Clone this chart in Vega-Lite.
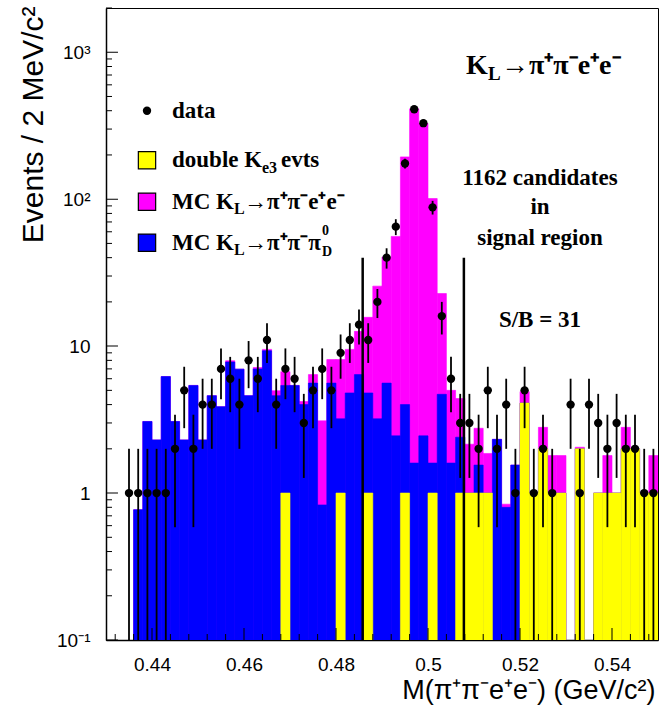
{
  "$schema": "https://vega.github.io/schema/vega-lite/v6.json",
  "width": 552,
  "height": 632,
  "autosize": {"type": "none"},
  "padding": {"left": 106, "top": 8, "right": 1, "bottom": 65},
  "background": "white",
  "config": {
    "view": {"stroke": "black", "strokeWidth": 1},
    "axis": {"domainColor": "black", "domainWidth": 1.5, "ticks": false, "labelColor": "black", "titleColor": "black", "labelFont": "Liberation Sans", "titleFont": "Liberation Sans", "titleFontWeight": "normal", "grid": false, "labelOverlap": false, "labelFlush": false, "zindex": 1},
    "text": {"font": "Liberation Serif", "fontWeight": "bold", "color": "black"}
  },
  "datasets": {
    "hist": [
      {"m_lo": 0.430, "m_hi": 0.432, "m": 0.431},
      {"m_lo": 0.432, "m_hi": 0.434, "m": 0.433},
      {"m_lo": 0.434, "m_hi": 0.436, "m": 0.435, "n": 1, "err_lo": 0.1, "err_hi": 2},
      {"m_lo": 0.436, "m_hi": 0.438, "m": 0.437, "n": 1, "err_lo": 0.1, "err_hi": 2, "pipipi_top": 0.77, "pipiee_top": 0.77},
      {"m_lo": 0.438, "m_hi": 0.440, "m": 0.439, "n": 1, "err_lo": 0.1, "err_hi": 2, "pipipi_top": 3.07, "pipiee_top": 3.07},
      {"m_lo": 0.440, "m_hi": 0.442, "m": 0.441, "n": 1, "err_lo": 0.1, "err_hi": 2, "pipipi_top": 2.3, "pipiee_top": 2.3},
      {"m_lo": 0.442, "m_hi": 0.444, "m": 0.443, "n": 1, "err_lo": 0.1, "err_hi": 2, "pipipi_top": 6.2, "pipiee_top": 6.2},
      {"m_lo": 0.444, "m_hi": 0.446, "m": 0.445, "n": 2, "err_lo": 0.586, "err_hi": 3.414, "pipipi_top": 3.07, "pipiee_top": 3.07},
      {"m_lo": 0.446, "m_hi": 0.448, "m": 0.447, "n": 5, "err_lo": 2.764, "err_hi": 7.236, "pipipi_top": 2.3, "pipiee_top": 2.3},
      {"m_lo": 0.448, "m_hi": 0.450, "m": 0.449, "n": 2, "err_lo": 0.586, "err_hi": 3.414, "pipipi_top": 5.4, "pipiee_top": 5.4},
      {"m_lo": 0.450, "m_hi": 0.452, "m": 0.451, "n": 4, "err_lo": 2, "err_hi": 6, "pipipi_top": 2.3, "pipiee_top": 2.3},
      {"m_lo": 0.452, "m_hi": 0.454, "m": 0.453, "n": 4, "err_lo": 2, "err_hi": 6, "pipipi_top": 4.6, "pipiee_top": 4.6},
      {"m_lo": 0.454, "m_hi": 0.456, "m": 0.455, "n": 7, "err_lo": 4.354, "err_hi": 9.646, "pipipi_top": 3.87, "pipiee_top": 3.87},
      {"m_lo": 0.456, "m_hi": 0.458, "m": 0.457, "n": 6, "err_lo": 3.551, "err_hi": 8.449, "pipipi_top": 7.8, "pipiee_top": 7.95},
      {"m_lo": 0.458, "m_hi": 0.460, "m": 0.459, "n": 4, "err_lo": 2, "err_hi": 6, "pipipi_top": 6.97, "pipiee_top": 6.97},
      {"m_lo": 0.460, "m_hi": 0.462, "m": 0.461, "n": 8, "err_lo": 5.172, "err_hi": 10.828, "pipipi_top": 4.6, "pipiee_top": 4.6},
      {"m_lo": 0.462, "m_hi": 0.464, "m": 0.463, "n": 6, "err_lo": 3.551, "err_hi": 8.449, "pipipi_top": 7.0, "pipiee_top": 7.15},
      {"m_lo": 0.464, "m_hi": 0.466, "m": 0.465, "n": 11, "err_lo": 7.683, "err_hi": 14.317, "pipipi_top": 9.3, "pipiee_top": 9.5},
      {"m_lo": 0.466, "m_hi": 0.468, "m": 0.467, "n": 4, "err_lo": 2, "err_hi": 6, "pipipi_top": 4.6, "pipiee_top": 4.97},
      {"m_lo": 0.468, "m_hi": 0.470, "m": 0.469, "n": 7, "err_lo": 4.354, "err_hi": 9.646, "ke3_top": 1, "pipipi_top": 5.4, "pipiee_top": 6.7},
      {"m_lo": 0.470, "m_hi": 0.472, "m": 0.471, "n": 6, "err_lo": 3.551, "err_hi": 8.449, "pipipi_top": 5.4, "pipiee_top": 5.4},
      {"m_lo": 0.472, "m_hi": 0.474, "m": 0.473, "n": 3, "err_lo": 1.268, "err_hi": 4.732, "pipipi_top": 4.0, "pipiee_top": 4.2},
      {"m_lo": 0.474, "m_hi": 0.476, "m": 0.475, "n": 5, "err_lo": 2.764, "err_hi": 7.236, "pipipi_top": 5.6, "pipiee_top": 6.4},
      {"m_lo": 0.476, "m_hi": 0.478, "m": 0.477, "n": 7, "err_lo": 4.354, "err_hi": 9.646, "pipipi_top": 0.83, "pipiee_top": 3.1},
      {"m_lo": 0.478, "m_hi": 0.480, "m": 0.479, "n": 5, "err_lo": 2.764, "err_hi": 7.236, "pipipi_top": 5.6, "pipiee_top": 8.1},
      {"m_lo": 0.480, "m_hi": 0.482, "m": 0.481, "n": 9, "err_lo": 6, "err_hi": 12, "ke3_top": 1, "pipipi_top": 3.2, "pipiee_top": 8.1},
      {"m_lo": 0.482, "m_hi": 0.484, "m": 0.483, "n": 11, "err_lo": 7.683, "err_hi": 14.317, "pipipi_top": 4.8, "pipiee_top": 9.5},
      {"m_lo": 0.484, "m_hi": 0.486, "m": 0.485, "n": 14, "err_lo": 10.258, "err_hi": 17.742, "pipipi_top": 6.4, "pipiee_top": 12.6},
      {"m_lo": 0.486, "m_hi": 0.488, "m": 0.487, "n": 11, "err_lo": 7.683, "err_hi": 14.317, "ke3_top": 1, "pipipi_top": 4.8, "pipiee_top": 15.7},
      {"m_lo": 0.488, "m_hi": 0.490, "m": 0.489, "n": 20, "err_lo": 15.528, "err_hi": 24.472, "pipipi_top": 3.2, "pipiee_top": 25.6},
      {"m_lo": 0.490, "m_hi": 0.492, "m": 0.491, "n": 40, "err_lo": 33.675, "err_hi": 46.325, "pipipi_top": 5.6, "pipiee_top": 40.4},
      {"m_lo": 0.492, "m_hi": 0.494, "m": 0.493, "n": 65, "err_lo": 56.938, "err_hi": 73.062, "pipipi_top": 2.45, "pipiee_top": 55.8},
      {"m_lo": 0.494, "m_hi": 0.496, "m": 0.495, "n": 175, "err_lo": 161.771, "err_hi": 188.229, "ke3_top": 1, "pipipi_top": 4.0, "pipiee_top": 194},
      {"m_lo": 0.496, "m_hi": 0.498, "m": 0.497, "n": 409, "err_lo": 388.776, "err_hi": 429.224, "pipipi_top": 1.6, "pipiee_top": 412},
      {"m_lo": 0.498, "m_hi": 0.500, "m": 0.499, "n": 329, "err_lo": 310.862, "err_hi": 347.138, "pipipi_top": 2.45, "pipiee_top": 328},
      {"m_lo": 0.500, "m_hi": 0.502, "m": 0.501, "n": 88, "err_lo": 78.619, "err_hi": 97.381, "ke3_top": 1, "pipipi_top": 1.6, "pipiee_top": 101},
      {"m_lo": 0.502, "m_hi": 0.504, "m": 0.503, "n": 16, "err_lo": 12, "err_hi": 20, "pipipi_top": 4.7, "pipiee_top": 22.8},
      {"m_lo": 0.504, "m_hi": 0.506, "m": 0.505, "n": 6, "err_lo": 3.551, "err_hi": 8.449, "pipipi_top": 1.6, "pipiee_top": 5.0},
      {"m_lo": 0.506, "m_hi": 0.508, "m": 0.507, "n": 3, "err_lo": 1.268, "err_hi": 4.732, "ke3_top": 1, "pipipi_top": 2.4, "pipiee_top": 4.4},
      {"m_lo": 0.508, "m_hi": 0.510, "m": 0.509, "n": 3, "err_lo": 1.268, "err_hi": 4.732, "ke3_top": 1, "pipipi_top": 1, "pipiee_top": 2.15},
      {"m_lo": 0.510, "m_hi": 0.512, "m": 0.511, "n": 2, "err_lo": 0.586, "err_hi": 3.414, "ke3_top": 1, "pipipi_top": 1.55, "pipiee_top": 2.76},
      {"m_lo": 0.512, "m_hi": 0.514, "m": 0.513, "n": 5, "err_lo": 2.764, "err_hi": 7.236, "ke3_top": 1, "pipipi_top": 1, "pipiee_top": 1.86},
      {"m_lo": 0.514, "m_hi": 0.516, "m": 0.515, "n": 2, "err_lo": 0.586, "err_hi": 3.414, "pipipi_top": 2.32, "pipiee_top": 2.32},
      {"m_lo": 0.516, "m_hi": 0.518, "m": 0.517, "n": 4, "err_lo": 2, "err_hi": 6, "pipipi_top": 0.8, "pipiee_top": 0.84},
      {"m_lo": 0.518, "m_hi": 0.520, "m": 0.519, "n": 1, "err_lo": 0.1, "err_hi": 2, "pipipi_top": 1.55, "pipiee_top": 1.55},
      {"m_lo": 0.520, "m_hi": 0.522, "m": 0.521, "n": 5, "err_lo": 2.764, "err_hi": 7.236, "ke3_top": 4.1, "pipipi_top": 4.1, "pipiee_top": 4.9},
      {"m_lo": 0.522, "m_hi": 0.524, "m": 0.523, "n": 1, "err_lo": 0.1, "err_hi": 2, "ke3_top": 1, "pipipi_top": 1, "pipiee_top": 1},
      {"m_lo": 0.524, "m_hi": 0.526, "m": 0.525, "n": 2, "err_lo": 0.586, "err_hi": 3.414, "ke3_top": 2, "pipipi_top": 2, "pipiee_top": 2.8},
      {"m_lo": 0.526, "m_hi": 0.528, "m": 0.527, "n": 1, "err_lo": 0.1, "err_hi": 2, "ke3_top": 1, "pipipi_top": 1, "pipiee_top": 1.8},
      {"m_lo": 0.528, "m_hi": 0.530, "m": 0.529, "ke3_top": 1, "pipipi_top": 1, "pipiee_top": 1.8},
      {"m_lo": 0.530, "m_hi": 0.532, "m": 0.531, "n": 4, "err_lo": 2, "err_hi": 6},
      {"m_lo": 0.532, "m_hi": 0.534, "m": 0.533, "n": 1, "err_lo": 0.1, "err_hi": 2, "ke3_top": 2, "pipipi_top": 2, "pipiee_top": 2.05},
      {"m_lo": 0.534, "m_hi": 0.536, "m": 0.535, "n": 4, "err_lo": 2, "err_hi": 6},
      {"m_lo": 0.536, "m_hi": 0.538, "m": 0.537, "n": 3, "err_lo": 1.268, "err_hi": 4.732, "ke3_top": 1, "pipipi_top": 1, "pipiee_top": 1},
      {"m_lo": 0.538, "m_hi": 0.540, "m": 0.539, "n": 2, "err_lo": 0.586, "err_hi": 3.414, "ke3_top": 1, "pipipi_top": 1, "pipiee_top": 1.8},
      {"m_lo": 0.540, "m_hi": 0.542, "m": 0.541, "n": 3, "err_lo": 1.268, "err_hi": 4.732, "ke3_top": 1, "pipipi_top": 1, "pipiee_top": 1},
      {"m_lo": 0.542, "m_hi": 0.544, "m": 0.543, "n": 2, "err_lo": 0.586, "err_hi": 3.414, "ke3_top": 2, "pipipi_top": 2, "pipiee_top": 2.8},
      {"m_lo": 0.544, "m_hi": 0.546, "m": 0.545, "n": 2, "err_lo": 0.586, "err_hi": 3.414, "ke3_top": 2, "pipipi_top": 2, "pipiee_top": 2},
      {"m_lo": 0.546, "m_hi": 0.548, "m": 0.547, "n": 1, "err_lo": 0.1, "err_hi": 2, "ke3_top": 1, "pipipi_top": 1, "pipiee_top": 1},
      {"m_lo": 0.548, "m_hi": 0.550, "m": 0.549, "n": 1, "err_lo": 0.1, "err_hi": 2, "ke3_top": 1, "pipipi_top": 1, "pipiee_top": 1.8}
    ],
    "cuts": [{"m": 0.4858, "top": 40}, {"m": 0.5078, "top": 40}],
    "ytick_major": [{"v": 0.1}, {"v": 1}, {"v": 10}, {"v": 100}, {"v": 1000}],
    "ytick_minor": [
      {"v": 0.2}, {"v": 0.3}, {"v": 0.4}, {"v": 0.5}, {"v": 0.6}, {"v": 0.7}, {"v": 0.8}, {"v": 0.9},
      {"v": 2}, {"v": 3}, {"v": 4}, {"v": 5}, {"v": 6}, {"v": 7}, {"v": 8}, {"v": 9},
      {"v": 20}, {"v": 30}, {"v": 40}, {"v": 50}, {"v": 60}, {"v": 70}, {"v": 80}, {"v": 90},
      {"v": 200}, {"v": 300}, {"v": 400}, {"v": 500}, {"v": 600}, {"v": 700}, {"v": 800}, {"v": 900}, {"v": 2000}
    ],
    "xtick_major": [{"v": 0.44}, {"v": 0.46}, {"v": 0.48}, {"v": 0.5}, {"v": 0.52}, {"v": 0.54}],
    "xtick_minor": [
      {"v": 0.432}, {"v": 0.436}, {"v": 0.444}, {"v": 0.448}, {"v": 0.452}, {"v": 0.456},
      {"v": 0.464}, {"v": 0.468}, {"v": 0.472}, {"v": 0.476}, {"v": 0.484}, {"v": 0.488}, {"v": 0.492}, {"v": 0.496},
      {"v": 0.504}, {"v": 0.508}, {"v": 0.512}, {"v": 0.516}, {"v": 0.524}, {"v": 0.528}, {"v": 0.532}, {"v": 0.536},
      {"v": 0.544}, {"v": 0.548}
    ]
  },
  "layer": [
    {
      "data": {"name": "hist"},
      "mark": {"type": "bar", "color": "#ff00ff", "stroke": "#ff00ff", "strokeWidth": 0.6, "clip": true},
      "encoding": {
        "x": {"field": "m_lo", "type": "quantitative",
          "scale": {"domain": [0.43, 0.55], "nice": false, "zero": false},
          "axis": {"title": "M(π⁺π⁻e⁺e⁻) (GeV/c²)",
            "values": [0.44, 0.46, 0.48, 0.5, 0.52, 0.54],
            "labelExpr": "format(datum.value, '.2~f')",
            "labelOverlap": false, "labelBound": false, "ticks": false,
            "labelPadding": 15, "labelFontSize": 19,
            "titleFontSize": 27, "titleX": 549, "titleY": 58, "titleAlign": "right", "titleBaseline": "alphabetic"}},
        "x2": {"field": "m_hi"},
        "y": {"field": "pipiee_top", "type": "quantitative",
          "scale": {"type": "log", "domain": [0.1, 2000], "nice": false},
          "axis": {"title": "Events / 2 MeV/c²",
            "values": [0.1, 1, 10, 100, 1000],
            "labelExpr": "datum.value == 1000 ? '10³' : datum.value == 100 ? '10²' : datum.value == 10 ? '10' : datum.value == 1 ? '1' : '10⁻¹'",
            "labelOverlap": false, "labelBound": false, "ticks": false,
            "labelPadding": 16, "labelFontSize": 19,
            "titleFontSize": 30, "titleX": -64, "titleY": -2, "titleAngle": -90, "titleAlign": "right", "titleBaseline": "alphabetic"}},
        "y2": {"datum": 0.1}
      }
    },
    {
      "data": {"name": "hist"},
      "mark": {"type": "bar", "color": "#0000ff", "stroke": "#0000ff", "strokeWidth": 0.6, "clip": true},
      "encoding": {
        "x": {"field": "m_lo", "type": "quantitative"},
        "x2": {"field": "m_hi"},
        "y": {"field": "pipipi_top", "type": "quantitative"},
        "y2": {"datum": 0.1}
      }
    },
    {
      "data": {"name": "hist"},
      "mark": {"type": "bar", "color": "#ffff00", "stroke": "#ffff00", "strokeWidth": 0.6, "clip": true},
      "encoding": {
        "x": {"field": "m_lo", "type": "quantitative"},
        "x2": {"field": "m_hi"},
        "y": {"field": "ke3_top", "type": "quantitative"},
        "y2": {"datum": 0.1}
      }
    },
    {
      "data": {"name": "ytick_major"},
      "mark": {"type": "tick", "orient": "horizontal", "color": "black", "size": 12, "thickness": 1, "opacity": 1},
      "encoding": {
        "y": {"field": "v", "type": "quantitative"},
        "x": {"datum": 0.4313, "type": "quantitative"}
      }
    },
    {
      "data": {"name": "ytick_minor"},
      "mark": {"type": "tick", "orient": "horizontal", "color": "black", "size": 6, "thickness": 1, "opacity": 1},
      "encoding": {
        "y": {"field": "v", "type": "quantitative"},
        "x": {"datum": 0.43065, "type": "quantitative"}
      }
    },
    {
      "data": {"name": "xtick_major"},
      "mark": {"type": "tick", "orient": "vertical", "color": "black", "size": 12, "thickness": 1, "opacity": 1},
      "encoding": {
        "x": {"field": "v", "type": "quantitative"},
        "y": {"datum": 0.10985, "type": "quantitative"}
      }
    },
    {
      "data": {"name": "xtick_minor"},
      "mark": {"type": "tick", "orient": "vertical", "color": "black", "size": 6, "thickness": 1, "opacity": 1},
      "encoding": {
        "x": {"field": "v", "type": "quantitative"},
        "y": {"datum": 0.10481, "type": "quantitative"}
      }
    },
    {
      "data": {"name": "cuts"},
      "mark": {"type": "rule", "color": "black", "strokeWidth": 2.5},
      "encoding": {
        "x": {"field": "m", "type": "quantitative"},
        "y": {"field": "top", "type": "quantitative"},
        "y2": {"datum": 0.1}
      }
    },
    {
      "data": {"name": "hist"},
      "mark": {"type": "rule", "color": "black", "strokeWidth": 1.8, "clip": true},
      "encoding": {
        "x": {"field": "m", "type": "quantitative"},
        "y": {"field": "err_lo", "type": "quantitative"},
        "y2": {"field": "err_hi"}
      }
    },
    {
      "data": {"name": "hist"},
      "mark": {"type": "point", "shape": "circle", "filled": true, "color": "black", "size": 70, "opacity": 1},
      "encoding": {
        "x": {"field": "m", "type": "quantitative"},
        "y": {"field": "n", "type": "quantitative"}
      }
    },
    {"data": {"values": [{}]}, "mark": {"type": "point", "shape": "circle", "filled": true, "color": "black", "size": 70, "opacity": 1},
     "encoding": {"x": {"datum": 0.438913, "type": "quantitative"}, "y": {"datum": 400, "type": "quantitative"}}},
    {"data": {"values": [{}]}, "mark": {"type": "point", "shape": "square", "filled": true, "fill": "#ffff00", "stroke": "black", "strokeWidth": 1.2, "size": 300, "opacity": 1},
     "encoding": {"x": {"datum": 0.438913, "type": "quantitative"}, "y": {"datum": 184, "type": "quantitative"}}},
    {"data": {"values": [{}]}, "mark": {"type": "point", "shape": "square", "filled": true, "fill": "#ff00ff", "stroke": "black", "strokeWidth": 1.2, "size": 300, "opacity": 1},
     "encoding": {"x": {"datum": 0.438913, "type": "quantitative"}, "y": {"datum": 96, "type": "quantitative"}}},
    {"data": {"values": [{}]}, "mark": {"type": "point", "shape": "square", "filled": true, "fill": "#0000ff", "stroke": "black", "strokeWidth": 1.2, "size": 300, "opacity": 1},
     "encoding": {"x": {"datum": 0.438913, "type": "quantitative"}, "y": {"datum": 50.5, "type": "quantitative"}}},
    {"data": {"values": [{}]}, "mark": {"type": "text", "text": "data", "align": "left", "baseline": "middle", "fontSize": 23},
     "encoding": {"x": {"datum": 0.444348, "type": "quantitative"}, "y": {"datum": 400, "type": "quantitative"}}},
    {"data": {"values": [{}]}, "mark": {"type": "text", "text": "double K", "align": "left", "baseline": "middle", "fontSize": 23},
     "encoding": {"x": {"datum": 0.444348, "type": "quantitative"}, "y": {"datum": 184, "type": "quantitative"}}},
    {"data": {"values": [{}]}, "mark": {"type": "text", "text": "e3", "align": "left", "baseline": "middle", "fontSize": 16},
     "encoding": {"x": {"datum": 0.463913, "type": "quantitative"}, "y": {"datum": 164, "type": "quantitative"}}},
    {"data": {"values": [{}]}, "mark": {"type": "text", "text": "evts", "align": "left", "baseline": "middle", "fontSize": 23},
     "encoding": {"x": {"datum": 0.468043, "type": "quantitative"}, "y": {"datum": 184, "type": "quantitative"}}},
    {"data": {"values": [{}]}, "mark": {"type": "text", "text": "MC K", "align": "left", "baseline": "middle", "fontSize": 23},
     "encoding": {"x": {"datum": 0.444348, "type": "quantitative"}, "y": {"datum": 96, "type": "quantitative"}}},
    {"data": {"values": [{}]}, "mark": {"type": "text", "text": "L", "align": "left", "baseline": "middle", "fontSize": 16},
     "encoding": {"x": {"datum": 0.457826, "type": "quantitative"}, "y": {"datum": 85.5, "type": "quantitative"}}},
    {"data": {"values": [{}]}, "mark": {"type": "text", "text": "→π⁺π⁻e⁺e⁻", "align": "left", "baseline": "middle", "fontSize": 23},
     "encoding": {"x": {"datum": 0.46, "type": "quantitative"}, "y": {"datum": 96, "type": "quantitative"}}},
    {"data": {"values": [{}]}, "mark": {"type": "text", "text": "MC K", "align": "left", "baseline": "middle", "fontSize": 23},
     "encoding": {"x": {"datum": 0.444348, "type": "quantitative"}, "y": {"datum": 50.5, "type": "quantitative"}}},
    {"data": {"values": [{}]}, "mark": {"type": "text", "text": "L", "align": "left", "baseline": "middle", "fontSize": 16},
     "encoding": {"x": {"datum": 0.457826, "type": "quantitative"}, "y": {"datum": 45, "type": "quantitative"}}},
    {"data": {"values": [{}]}, "mark": {"type": "text", "text": "→π⁺π⁻π", "align": "left", "baseline": "middle", "fontSize": 23},
     "encoding": {"x": {"datum": 0.46, "type": "quantitative"}, "y": {"datum": 50.5, "type": "quantitative"}}},
    {"data": {"values": [{}]}, "mark": {"type": "text", "text": "0", "align": "left", "baseline": "middle", "fontSize": 14},
     "encoding": {"x": {"datum": 0.476957, "type": "quantitative"}, "y": {"datum": 61, "type": "quantitative"}}},
    {"data": {"values": [{}]}, "mark": {"type": "text", "text": "D", "align": "left", "baseline": "middle", "fontSize": 14},
     "encoding": {"x": {"datum": 0.476957, "type": "quantitative"}, "y": {"datum": 43.5, "type": "quantitative"}}},
    {"data": {"values": [{}]}, "mark": {"type": "text", "text": "K", "align": "left", "baseline": "middle", "fontSize": 28},
     "encoding": {"x": {"datum": 0.508261, "type": "quantitative"}, "y": {"datum": 803, "type": "quantitative"}}},
    {"data": {"values": [{}]}, "mark": {"type": "text", "text": "L", "align": "left", "baseline": "middle", "fontSize": 19},
     "encoding": {"x": {"datum": 0.513043, "type": "quantitative"}, "y": {"datum": 708.6, "type": "quantitative"}}},
    {"data": {"values": [{}]}, "mark": {"type": "text", "text": "→π⁺π⁻e⁺e⁻", "align": "left", "baseline": "middle", "fontSize": 28},
     "encoding": {"x": {"datum": 0.51587, "type": "quantitative"}, "y": {"datum": 803, "type": "quantitative"}}},
    {"data": {"values": [{}]}, "mark": {"type": "text", "text": "1162 candidates", "align": "center", "baseline": "middle", "fontSize": 23},
     "encoding": {"x": {"datum": 0.524348, "type": "quantitative"}, "y": {"datum": 139, "type": "quantitative"}}},
    {"data": {"values": [{}]}, "mark": {"type": "text", "text": "in", "align": "center", "baseline": "middle", "fontSize": 23},
     "encoding": {"x": {"datum": 0.524348, "type": "quantitative"}, "y": {"datum": 88.2, "type": "quantitative"}}},
    {"data": {"values": [{}]}, "mark": {"type": "text", "text": "signal region", "align": "center", "baseline": "middle", "fontSize": 23},
     "encoding": {"x": {"datum": 0.524348, "type": "quantitative"}, "y": {"datum": 54.3, "type": "quantitative"}}},
    {"data": {"values": [{}]}, "mark": {"type": "text", "text": "S/B = 31", "align": "center", "baseline": "middle", "fontSize": 23},
     "encoding": {"x": {"datum": 0.524348, "type": "quantitative"}, "y": {"datum": 15.0, "type": "quantitative"}}}
  ]
}
